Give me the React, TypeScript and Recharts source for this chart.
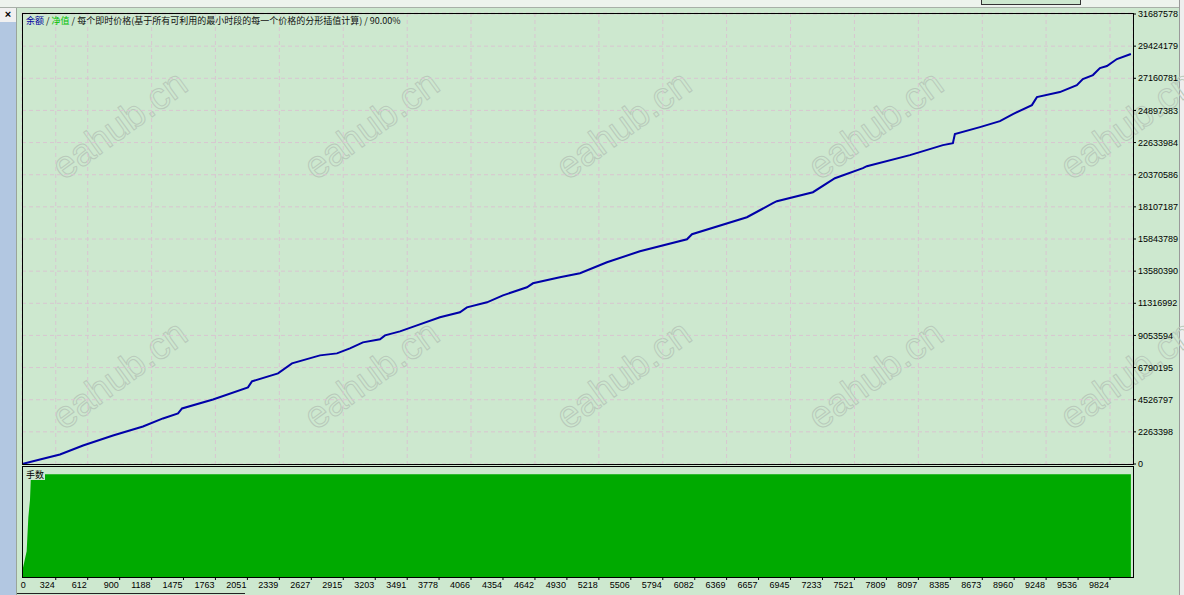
import { ComposedChart, AreaChart, Area, Line, XAxis, YAxis, CartesianGrid } from 'recharts';

const tradeNo = [
  20, 182, 362, 570, 840, 1110, 1290, 1426, 1462, 1741, 2056, 2092, 2327, 2453, 2705, 2858, 2975, 3092,
  3246, 3291, 3426, 3579, 3786, 3966, 4029, 4210, 4354, 4570, 4624, 4867, 5048, 5291, 5588, 6012, 6057,
  6552, 6786, 6822, 7147, 7345, 7597, 7633, 8021, 8318, 8408, 8426, 8652, 8832, 8949, 9120, 9165, 9372,
  9525, 9579, 9670, 9733, 9796, 9886, 10012,
];
const balance = [
  0, 317000, 670000, 1304000, 2009000, 2644000, 3208000, 3560000, 3912000, 4547000, 5393000, 5816000,
  6380000, 7085000, 7649000, 7790000, 8142000, 8565000, 8777000, 9059000, 9341000, 9764000, 10328000,
  10680000, 11032000, 11385000, 11878000, 12442000, 12724000, 13147000, 13429000, 14205000, 14980000,
  15826000, 16179000, 17377000, 18364000, 18505000, 19139000, 20126000, 20831000, 20972000, 21748000,
  22453000, 22594000, 23228000, 23722000, 24145000, 24638000, 25272000, 25836000, 26189000, 26682000,
  27105000, 27387000, 27881000, 28022000, 28515000, 28868000,
];

const lotTrades = [20, 29, 62, 77, 92, 101, 10012];
const lots = [0, 0.09, 0.25, 0.58, 0.75, 1, 1];

const xTicks = [
  0, 324, 612, 900, 1188, 1475, 1763, 2051, 2339, 2627, 2915, 3203, 3491, 3778, 4066, 4354, 4642, 4930,
  5218, 5506, 5794, 6082, 6369, 6657, 6945, 7233, 7521, 7809, 8097, 8385, 8673, 8960, 9248, 9536, 9824,
];
const yTicks = [
  0, 2263398, 4526797, 6790195, 9053594, 11316992, 13580390, 15843789, 18107187, 20370586, 22633984,
  24897383, 27160781, 29424179, 31687578,
];

const balanceData = tradeNo.map((t, i) => ({ t, balance: balance[i] }));
const lotData = lotTrades.map((t, i) => ({ t, lots: lots[i] }));

const BG = '#cde8cf';
const FONT = '"Liberation Sans", Arial, sans-serif';
const CJK = '"Noto Sans CJK SC", sans-serif';

const XTick = ({ x, y, payload, index }: any) => (
  <g>
    {index > 0 && <line x1={x} x2={x} y1={y - 5} y2={y - 2} stroke="#000" />}
    <text
      x={index === 0 ? x + 1 : x - 1}
      y={y}
      dy="0.71em"
      textAnchor={index === 0 ? 'start' : 'end'}
      fontSize={9}
      fontFamily={FONT}
      fill="#000"
    >
      {payload.value}
    </text>
  </g>
);

// watermark tiles (two rows visible above the lots panel)
const marks = [0, 1].flatMap((r) => [0, 1, 2, 3, 4].map((c) => ({ cx: 121 + c * 252, cy: 127 + r * 250 })));

export default function App() {
  return (
    <div style={{ position: 'fixed', left: 0, top: 0, width: 1184, height: 595, background: BG, overflow: 'hidden' }}>
      {/* window chrome */}
      <div style={{ position: 'absolute', left: 0, top: 0, width: 1184, height: 7, background: '#edf3ed', borderBottom: '1px solid #a8b0a8' }} />
      <div style={{ position: 'absolute', left: 981, top: -8, width: 98, height: 11, background: BG, border: '1px solid #333' }} />
      <div style={{ position: 'absolute', left: 0, top: 8, width: 16, height: 14, background: '#f0f0f0', fontFamily: FONT, fontWeight: 'bold', fontSize: 11, lineHeight: '12px', textAlign: 'center' }}>×</div>
      <div style={{ position: 'absolute', left: 0, top: 22, width: 16, height: 573, background: '#b2c7e1' }} />
      <div style={{ position: 'absolute', left: 16, top: 8, width: 1, height: 587, background: '#9aa59a' }} />
      <div style={{ position: 'absolute', left: 1179, top: 0, width: 5, height: 595, background: '#eeeeee', borderLeft: '1px solid #9a9a9a' }} />
      <div style={{ position: 'absolute', left: 17, top: 593, width: 228, height: 1, background: '#222' }} />

      {/* watermark */}
      <svg width={1184} height={595} style={{ position: 'absolute', left: 0, top: 0 }}>
        {marks.map((m, i) => (
          <text
            key={i}
            x={m.cx}
            y={m.cy}
            textAnchor="middle"
            dominantBaseline="middle"
            transform={`rotate(-36 ${m.cx} ${m.cy})`}
            fontFamily={FONT}
            fontSize={38}
            fill="none"
            stroke="#b9cabb"
            strokeWidth={1}
          >
            eahub.cn
          </text>
        ))}
      </svg>

      <div style={{ position: 'absolute', left: 0, top: 0 }}>
        <ComposedChart width={1184} height={480} data={balanceData} margin={{ top: 13, right: 5, left: 22, bottom: 16 }}>
          <CartesianGrid stroke="#d8c6d0" strokeDasharray="4 3" />
          <XAxis dataKey="t" type="number" domain={[20, 10031]} allowDataOverflow ticks={xTicks.slice(1)} hide />
          <YAxis
            orientation="right"
            type="number"
            domain={[0, 31758000]}
            ticks={yTicks}
            interval={0}
            width={46}
            tickSize={3}
            tickMargin={2}
            axisLine={false}
            tickLine={{ stroke: '#000' }}
            tick={{ fontSize: 9, fill: '#000', fontFamily: FONT }}
          />
          <Line dataKey="balance" type="linear" stroke="#0000a8" strokeWidth={2} dot={false} isAnimationActive={false} />
        </ComposedChart>
      </div>

      <div style={{ position: 'absolute', left: 0, top: 466 }}>
        <AreaChart width={1184} height={129} data={lotData} margin={{ top: 0, right: 51, left: 22, bottom: 0 }}>
          <XAxis
            dataKey="t"
            type="number"
            domain={[20, 10031]}
            allowDataOverflow
            ticks={xTicks}
            interval={0}
            height={18}
            tickSize={3}
            tickMargin={2}
            axisLine={false}
            tickLine={false}
            tick={<XTick />}
          />
          <YAxis type="number" domain={[0, 1.08]} hide />
          <Area dataKey="lots" type="linear" stroke="none" fill="#00aa00" fillOpacity={1} isAnimationActive={false} />
        </AreaChart>
      </div>

      {/* panel frames */}
      <div style={{ position: 'absolute', left: 22, top: 13, width: 1112, height: 452, border: '1px solid #000', boxSizing: 'border-box', pointerEvents: 'none' }} />
      <div style={{ position: 'absolute', left: 22, top: 466, width: 1112, height: 112, border: '1px solid #000', boxSizing: 'border-box', pointerEvents: 'none' }} />

      {/* titles */}
      <div style={{ position: 'absolute', left: 26, top: 15, fontFamily: CJK, fontSize: 9, lineHeight: '12px', whiteSpace: 'nowrap', color: '#111' }}>
        <span style={{ color: '#0000a0' }}>余额</span> / <span style={{ color: '#00c000' }}>净值</span> / 每个即时价格(基于所有可利用的最小时段的每一个价格的分形插值计算) / 90.00%
      </div>
      <div style={{ position: 'absolute', left: 25, top: 470, background: BG, fontFamily: CJK, fontSize: 9, lineHeight: '10px', padding: '0 1px', color: '#000' }}>手数</div>
    </div>
  );
}
